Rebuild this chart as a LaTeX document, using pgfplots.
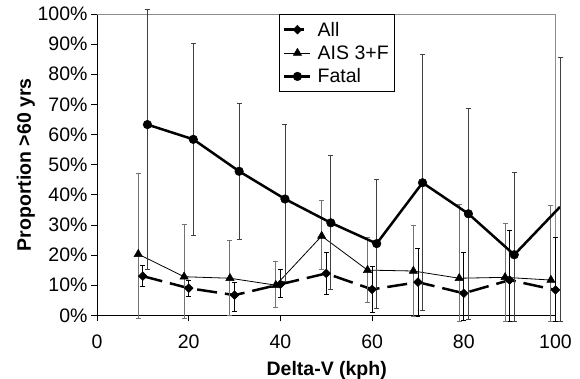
\documentclass[border=0pt]{standalone}
\usepackage{fontspec}
\setmainfont{Liberation Sans}
\usepackage{pgfplots}
\usepackage{pgfplotstable}
\pgfplotsset{compat=1.18}
\pgfplotsset{fatallegend/.style={legend image code/.code={\draw[##1, mark indices={2}] plot coordinates {(0bp,0bp) (13bp,0bp) (26bp,0bp)};}}}
\pgfplotstableread{
x y hi lo
10 13.0 16.6 9.5
20 9.0 11.7 6.4
30 6.7 11.0 1.2
40 10.3 15.4 5.9
50 13.9 20.9 7.0
60 8.6 16.1 1.0
70 11.0 22.2 -0.5
80 7.3 20.9 -1.6
90 11.7 28.2 -2.0
100 8.4 25.9 -2.0
}\tabAll
\pgfplotstableread{
x y hi lo
9 20.3 47.2 -1.0
19 12.8 30.1 -1.0
29 12.3 24.9 0.0
39 10.0 18.0 2.6
49 26.3 38.0 15.3
59 15.0 25.8 4.3
69 14.7 29.7 -0.5
79 12.3 36.9 -2.0
89 12.6 30.5 -2.0
99 11.7 36.4 -2.0
}\tabAIS
\pgfplotstableread{
x y hi lo
11 63.3 101.6 15.3
21 58.4 90.3 26.4
31 47.8 70.4 25.1
41 38.6 63.5 11.2
51 30.7 53.1 8.6
61 23.8 45.1 2.4
71 44.0 86.7 1.7
81 33.7 68.7 -1.3
91 20.1 47.5 -2.0
101 36.0 85.6 -2.0
}\tabFatal
\newcommand\chartfont{\fontsize{19.5bp}{23bp}\selectfont}
\begin{document}
\begin{tikzpicture}
\begin{axis}[
  at={(0,0)}, anchor=origin,
  width=458.5bp, height=301.3bp, scale only axis,
  xmin=0, xmax=100, ymin=0, ymax=100,
  clip=false,
  axis x line*=bottom, axis y line*=left,
  tick align=outside, major tick length=6bp,
  xtick={0,20,...,100}, ytick={0,10,...,100},
  xticklabels={0,20,40,60,80,100},
  yticklabels={0\%,10\%,20\%,30\%,40\%,50\%,60\%,70\%,80\%,90\%,100\%},
  ticklabel style={font=\chartfont},
  xticklabel style={yshift=-10bp},
  tick style={black, line width=0.8bp},
  axis line style={black, line width=0.8bp},
  xlabel={\textbf{Delta-V (kph)}},
  ylabel={\textbf{Proportion >60 yrs}},
  xlabel style={at={(axis description cs:0.501,-0.2)}, anchor=base, font=\chartfont},
  ylabel style={at={(axis description cs:-0.155,0.5)}, anchor=center, font=\chartfont},
  legend style={at={(axis description cs:0.3976,1)}, anchor=north west, draw=black,
    line width=0.8bp, font=\chartfont, inner xsep=3.5bp, inner ysep=5.5bp, row sep=4bp,
    /tikz/every odd column/.append style={column sep=4bp}},
  legend cell align=left,
  legend image code/.code={\draw[mark repeat=2,mark phase=2,#1] plot coordinates {(0bp,0bp) (13bp,0bp) (26bp,0bp)};},
]
\draw[black!45, line width=0.8bp] (rel axis cs:0,1) -- (rel axis cs:1,1) -- (rel axis cs:1,0);
\addplot[black, line width=2.5bp, dash pattern=on 20bp off 8bp,
  mark=square*, mark size=3.1bp, mark options={solid, rotate=45, line width=0.5bp},
  error bars/.cd, y dir=both, y explicit,
  error bar style={black, line width=0.8bp, solid},
  error mark options={rotate=90, black, mark size=2.5bp, line width=0.8bp, solid}]
  table[x=x, y=y, y error plus expr=\thisrow{hi}-\thisrow{y}, y error minus expr=\thisrow{y}-\thisrow{lo}] {\tabAll};
\addlegendentry{All}
\addplot[black, line width=0.8bp,
  mark=triangle*, mark size=4.8bp, mark options={solid, line width=0.5bp},
  error bars/.cd, y dir=both, y explicit,
  error bar style={black!55, line width=1bp},
  error mark options={rotate=90, black!55, mark size=2.5bp, line width=0.8bp}]
  table[x=x, y=y, y error plus expr=\thisrow{hi}-\thisrow{y}, y error minus expr=\thisrow{y}-\thisrow{lo}] {\tabAIS};
\addlegendentry{AIS 3+F}
\addplot[black, line width=2.5bp, mark indices={1,2,3,4,5,6,7,8,9},
  mark=*, mark size=4.3bp, mark options={solid, line width=0.5bp}, fatallegend,
  error bars/.cd, y dir=both, y explicit,
  error bar style={black!75, line width=0.9bp},
  error mark options={rotate=90, black!75, mark size=2.5bp, line width=0.8bp}]
  table[x=x, y=y, y error plus expr=\thisrow{hi}-\thisrow{y}, y error minus expr=\thisrow{y}-\thisrow{lo}] {\tabFatal};
\addlegendentry{Fatal}
\end{axis}
\pgfresetboundingbox
\path (-97bp,-63.7bp) rectangle (483bp,315.3bp);
\end{tikzpicture}
\end{document}
